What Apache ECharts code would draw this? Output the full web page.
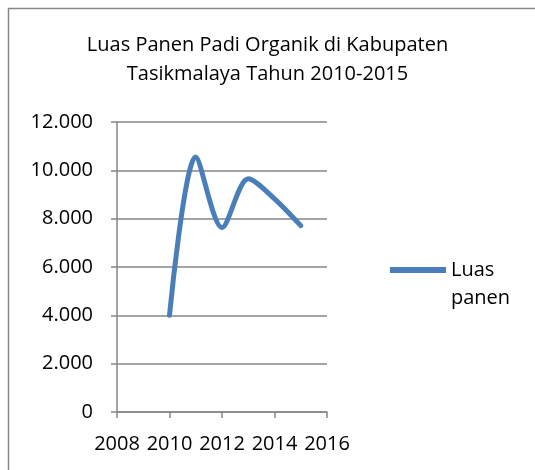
<!DOCTYPE html>
<html>
<head>
<meta charset="utf-8">
<script src="https://cdn.jsdelivr.net/npm/echarts@6/dist/echarts.min.js"></script>
<style>html,body{margin:0;padding:0;background:#fff}#c{width:535px;height:470px}</style>
</head>
<body>
<div id="c"></div>
<script>
var titleText = 'Luas Panen Padi Organik di Kabupaten\nTasikmalaya Tahun 2010-2015';
var seriesName = 'Luas panen';
var years = [2010, 2011, 2012, 2013, 2014, 2015];
var luasPanen = [4000, 10550, 7630, 9650, 8820, 7710];
var yTicks = [0, 2000, 4000, 6000, 8000, 10000, 12000];
var xTicks = [2008, 2010, 2012, 2014, 2016];

var FONT = 'Open Sans';
var chart = echarts.init(document.getElementById('c'), null, {renderer: 'canvas'});
function fmt(v){ return String(v).replace(/\B(?=(\d{3})+(?!\d))/g, '.'); }
chart.setOption({
  animation: false,
  backgroundColor: '#fff',
  graphic: [{
    type: 'rect', shape: {x: 8.5, y: 8.5, width: 600, height: 600},
    style: {fill: 'none', stroke: '#868686', lineWidth: 1.5}, silent: true
  }],
  title: {
    text: titleText, left: 'center', top: 26,
    textStyle: {fontFamily: FONT, fontSize: 20, fontWeight: 'normal', color: '#000', lineHeight: 29}
  },
  legend: {
    left: 390, top: 228, padding: 0, itemWidth: 56, itemHeight: 6, itemGap: 4,
    data: [{name: seriesName, icon: 'path://M0,0 L56,0 L56,6 L0,6 Z'}],
    formatter: function(n){ return '\n' + n.replace(' ', '\n'); },
    textStyle: {fontFamily: FONT, fontSize: 20, color: '#000', lineHeight: 28}
  },
  grid: {left: 117, right: 208, top: 122, bottom: 58, containLabel: false},
  xAxis: {
    type: 'value', min: xTicks[0], max: xTicks[xTicks.length-1], interval: 2,
    axisLine: {show: true, lineStyle: {color: '#868686', width: 1.5}},
    axisTick: {show: true, length: 6, lineStyle: {color: '#868686', width: 1.5}},
    splitLine: {show: false},
    axisLabel: {fontFamily: FONT, fontSize: 20, color: '#000', margin: 22, formatter: function(v){return String(v);}}
  },
  yAxis: {
    type: 'value', min: yTicks[0], max: yTicks[yTicks.length-1], interval: 2000,
    axisLine: {show: true, lineStyle: {color: '#868686', width: 1.5}},
    axisTick: {show: true, length: 6, lineStyle: {color: '#868686', width: 1.5}},
    splitLine: {show: true, lineStyle: {color: '#868686', width: 1.5}},
    axisLabel: {fontFamily: FONT, fontSize: 20, color: '#000', margin: 24, formatter: fmt}
  },
  series: [{
    name: seriesName, type: 'line', smooth: 0.3, showSymbol: false, symbol: 'none',
    data: years.map(function(y, i){ return [y, luasPanen[i]]; }),
    lineStyle: {color: '#4a7ebb', width: 5, cap: 'round', join: 'round'},
    itemStyle: {color: '#4a7ebb'}
  }]
});
</script>
</body>
</html>
